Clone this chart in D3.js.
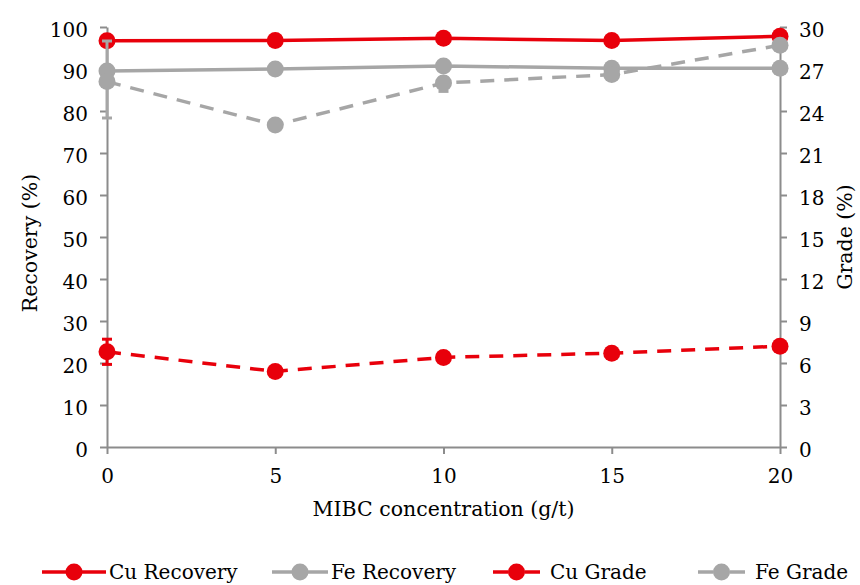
<!DOCTYPE html>
<html>
<head>
<meta charset="utf-8">
<script src="https://cdn.jsdelivr.net/npm/d3@7"></script>
<style>
  html, body { margin: 0; padding: 0; background: #fff; }
</style>
</head>
<body>
<svg id="chart" width="860" height="585"></svg>
<script>
// MIBC dosage (g/t)
const dosage = [0, 5, 10, 15, 20];
// Recovery (%), left axis
const cuRecovery = [96.7, 96.8, 97.3, 96.8, 97.8];
const feRecovery = [89.5, 90.0, 90.7, 90.2, 90.2];
// Grade (%), right axis
const cuGrade = [6.8, 5.4, 6.4, 6.7, 7.2];
const feGrade = [26.1, 23.0, 26.0, 26.6, 28.7];
// error bars (grade units), only reported where measured
const cuGradeErr = [0.9, 0, 0, 0, 0];
const feGradeErrUp = [2.9, 0, 0.4, 0, 0];
const feGradeErrDown = [2.6, 0, 0.6, 0, 0];

const recoveryTicks = [0, 10, 20, 30, 40, 50, 60, 70, 80, 90, 100];
const gradeTicks = [0, 3, 6, 9, 12, 15, 18, 21, 24, 27, 30];

const RED = "#e8000b";
const GRAY = "#a6a6a6";
const AXIS = "#8c8c8c";
const FONT = "DejaVu Serif";

const svg = d3.select("#chart");
const plotLeft = 107, plotRight = 780, plotTop = 27, plotBottom = 447;

const x = d3.scaleLinear().domain([0, 20]).range([plotLeft, plotRight]);
const yL = d3.scaleLinear().domain([0, 100]).range([plotBottom, plotTop]);
const yR = d3.scaleLinear().domain([0, 30]).range([plotBottom, plotTop]);

// axes
function styleAxis(g) {
  g.attr("font-family", FONT).attr("font-size", 20);
  g.select(".domain").attr("stroke", AXIS).attr("stroke-width", 2);
  g.selectAll(".tick line").attr("stroke", AXIS).attr("stroke-width", 2);
  g.selectAll(".tick text").attr("fill", "#000");
}

svg.append("g")
  .attr("transform", `translate(0,${plotBottom})`)
  .call(d3.axisBottom(x).tickValues(dosage).tickSize(7).tickSizeOuter(0).tickPadding(15))
  .call(styleAxis);

svg.append("g")
  .attr("transform", `translate(${plotLeft},0)`)
  .call(d3.axisLeft(yL).tickValues(recoveryTicks).tickSize(7).tickSizeOuter(0).tickPadding(12))
  .call(styleAxis)
  .call(g => g.selectAll(".tick text").attr("dy", "0.45em"));

svg.append("g")
  .attr("transform", `translate(${plotRight},0)`)
  .call(d3.axisRight(yR).tickValues(gradeTicks).tickSize(7).tickSizeOuter(0).tickPadding(12))
  .call(styleAxis)
  .call(g => g.selectAll(".tick text").attr("dy", "0.45em"));

// axis titles
svg.append("text")
  .attr("transform", `translate(${(plotLeft + plotRight) / 2},516)`)
  .attr("text-anchor", "middle").attr("font-size", 20.5).attr("font-family", FONT)
  .text("MIBC concentration (g/t)");

svg.append("text")
  .attr("transform", `translate(37,${(plotTop + plotBottom) / 2 + 6}) rotate(-90)`)
  .attr("text-anchor", "middle").attr("font-size", 20.5).attr("font-family", FONT)
  .text("Recovery (%)");

svg.append("text")
  .attr("transform", `translate(852,${(plotTop + plotBottom) / 2}) rotate(-90)`)
  .attr("text-anchor", "middle").attr("font-size", 20.5).attr("font-family", FONT)
  .text("Grade (%)");

// series
const series = [
  { name: "Cu Recovery", values: cuRecovery, y: yL, color: RED, dash: null },
  { name: "Fe Recovery", values: feRecovery, y: yL, color: GRAY, dash: null },
  { name: "Cu Grade", values: cuGrade, y: yR, color: RED, dash: "14,10", errUp: cuGradeErr, errDown: cuGradeErr },
  { name: "Fe Grade", values: feGrade, y: yR, color: GRAY, dash: "14,10", errUp: feGradeErrUp, errDown: feGradeErrDown }
];

const plot = svg.append("g");
series.forEach(s => {
  const pts = dosage.map((d, i) => [d, s.values[i]]);
  const line = d3.line().x(d => x(d[0])).y(d => s.y(d[1]));
  const g = plot.append("g");
  if (s.errUp) {
    dosage.forEach((d, i) => {
      if (!s.errUp[i] && !s.errDown[i]) return;
      const cx = x(d);
      const y1 = s.y(s.values[i] + s.errUp[i]);
      const y2 = s.y(s.values[i] - s.errDown[i]);
      g.append("line").attr("x1", cx).attr("x2", cx).attr("y1", y1).attr("y2", y2)
        .attr("stroke", s.color).attr("stroke-width", 3);
      [y1, y2].forEach(yy => g.append("line")
        .attr("x1", cx - 5).attr("x2", cx + 5).attr("y1", yy).attr("y2", yy)
        .attr("stroke", s.color).attr("stroke-width", 3));
    });
  }
  g.append("path").datum(pts).attr("d", line)
    .attr("fill", "none").attr("stroke", s.color).attr("stroke-width", 3.5)
    .attr("stroke-dasharray", s.dash);
  g.selectAll("circle").data(pts).join("circle")
    .attr("cx", d => x(d[0])).attr("cy", d => s.y(d[1])).attr("r", 8.5)
    .attr("fill", s.color);
});

// legend
const legendItems = [
  { s: series[0], x0: 42, x1: 106, tx: 109 },
  { s: series[1], x0: 272, x1: 328, tx: 331 },
  { s: series[2], x0: 493, x1: 540, tx: 550 },
  { s: series[3], x0: 698, x1: 745, tx: 755 }
];
const lg = svg.append("g");
legendItems.forEach(it => {
  const ly = 572;
  const cx = (it.x0 + it.x1) / 2;
  if (it.s.dash) {
    lg.append("line").attr("x1", it.x0).attr("x2", cx - 8).attr("y1", ly).attr("y2", ly)
      .attr("stroke", it.s.color).attr("stroke-width", 3.5);
    lg.append("line").attr("x1", cx + 8).attr("x2", it.x1).attr("y1", ly).attr("y2", ly)
      .attr("stroke", it.s.color).attr("stroke-width", 3.5);
  } else {
    lg.append("line").attr("x1", it.x0).attr("x2", it.x1).attr("y1", ly).attr("y2", ly)
      .attr("stroke", it.s.color).attr("stroke-width", 3.5);
  }
  lg.append("circle").attr("cx", cx).attr("cy", ly).attr("r", 8.5).attr("fill", it.s.color);
  lg.append("text").attr("x", it.tx).attr("y", ly + 7).attr("font-size", 20)
    .attr("font-family", FONT).text(it.s.name);
});
</script>
</body>
</html>
